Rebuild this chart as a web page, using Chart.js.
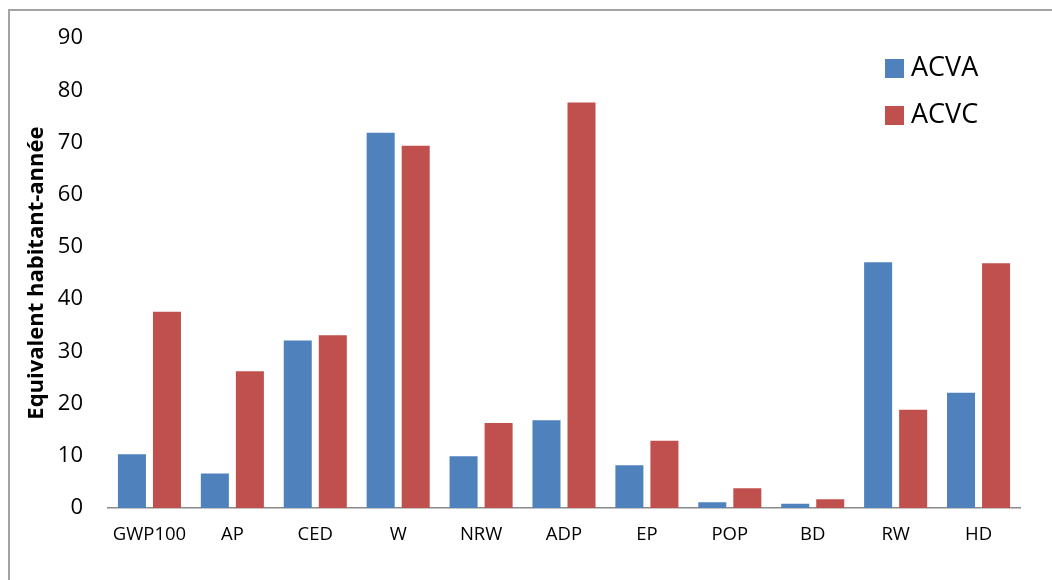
<!DOCTYPE html>
<html>
<head>
<meta charset="utf-8">
<script src="https://cdn.jsdelivr.net/npm/chart.js@4/dist/chart.umd.min.js"></script>
<style>
  html, body { margin: 0; padding: 0; background: #fff; overflow: hidden; }
  #wrap { position: relative; width: 1052px; height: 580px; }
  #frame { position: absolute; left: 8px; top: 9px; width: 1100px; height: 620px; border: 2px solid #a3a3a3; box-sizing: border-box; }
  canvas { position: absolute; left: 0; top: 0; }
</style>
</head>
<body>
<div id="wrap">
  <div id="frame"></div>
  <canvas id="chart" width="1052" height="580"></canvas>
</div>
<script>
const categories = ["GWP100", "AP", "CED", "W", "NRW", "ADP", "EP", "POP", "BD", "RW", "HD"];
const acva = [10.3, 6.6, 32.1, 71.9, 9.9, 16.8, 8.2, 1.1, 0.8, 47.1, 22.1];
const acvc = [37.6, 26.2, 33.1, 69.4, 16.3, 77.7, 12.9, 3.8, 1.7, 18.8, 46.9];
const yTitle = "Equivalent habitant-année";

// legend drawn inside the plot, top right
const innerLegend = {
  id: "innerLegend",
  afterDraw(chart) {
    const c = chart.ctx;
    c.save();
    c.font = "27px 'Open Sans'";
    c.textBaseline = "middle";
    chart.data.datasets.forEach((ds, i) => {
      const y = 68 + i * 47;
      c.fillStyle = ds.backgroundColor;
      c.fillRect(885, y - 9, 19, 19);
      c.fillStyle = "#000";
      c.fillText(ds.label, 911, y);
    });
    c.restore();
  }
};

new Chart(document.getElementById("chart").getContext("2d"), {
  type: "bar",
  data: {
    labels: categories,
    datasets: [
      { label: "ACVA", data: acva, backgroundColor: "#4F81BD" },
      { label: "ACVC", data: acvc, backgroundColor: "#C0504D" }
    ]
  },
  options: {
    responsive: false,
    animation: false,
    layout: { padding: { left: 0, right: 32, top: 35, bottom: 0 } },
    datasets: { bar: { categoryPercentage: 0.845, barPercentage: 0.8 } },
    plugins: { legend: { display: false }, tooltip: { enabled: false } },
    scales: {
      x: {
        grid: { display: false, drawTicks: false },
        border: { display: true, color: "#8a8a8a", width: 1.5 },
        ticks: { color: "#000", font: { family: "Open Sans", size: 18.5 }, padding: 16, maxRotation: 0 },
        afterFit: s => { s.height = 72; }
      },
      y: {
        min: 0, max: 90,
        grid: { display: false, drawTicks: false },
        border: { display: false },
        ticks: { stepSize: 10, color: "#000", font: { family: "Open Sans", size: 22 }, padding: 25 },
        title: { display: true, text: yTitle, color: "#000", font: { family: "Open Sans", size: 22, weight: "bold" }, padding: { top: 24, bottom: 0 } },
        afterFit: s => { s.width = 108; }
      }
    }
  },
  plugins: [innerLegend]
});
</script>
</body>
</html>
